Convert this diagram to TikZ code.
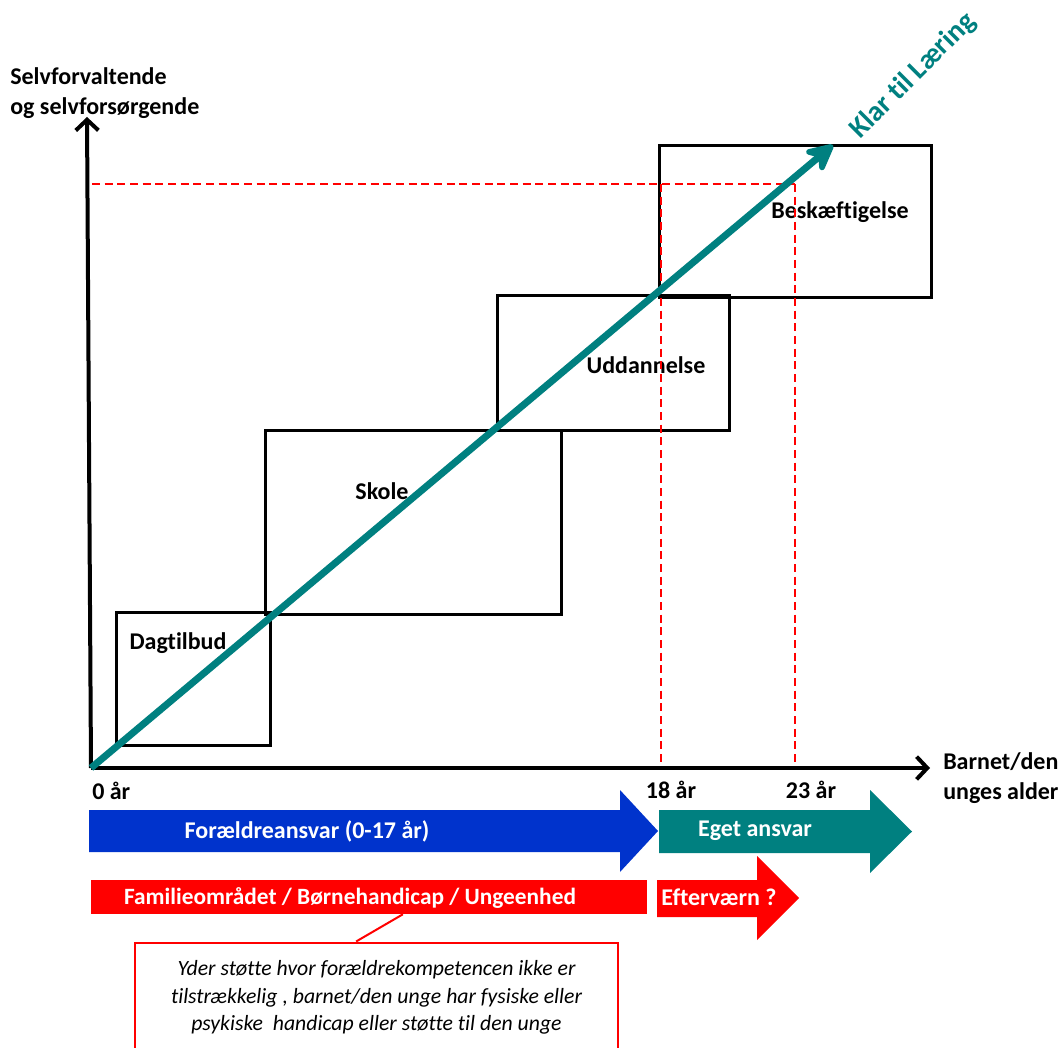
\documentclass[tikz,border=0pt]{standalone}
\usepackage{fontspec}
\setmainfont{Carlito}[Ligatures=NoCommon]
\usetikzlibrary{arrows.meta}
\definecolor{tealc}{RGB}{0,128,128}
\definecolor{bluec}{RGB}{0,51,204}
\definecolor{redc}{RGB}{255,0,0}
\begin{document}
\begin{tikzpicture}[x=0.75pt,y=-0.75pt,
  stagebox/.style={draw=black,line width=2.25pt,inner sep=0pt,minimum width=#1},
  lbl/.style={font=\bfseries\fontsize{18}{21}\selectfont,inner sep=0pt},
  axlbl/.style={font=\bfseries\fontsize{18}{22.5}\selectfont,inner sep=0pt},
  wlbl/.style={font=\bfseries\fontsize{18}{21}\selectfont,text=white,inner sep=0pt},
  axisline/.style={line width=3pt,draw=black,-{Straight Barb[length=8pt,width=17pt,line width=3pt]}},
  guide/.style={draw=redc,line width=1.1pt,dash pattern=on 6pt off 3.5pt}]
\useasboundingbox (0,0) rectangle (1063,1048);
% stage boxes
\node[stagebox=115.5pt,minimum height=99.75pt] (dag) at (193,678.5) {};
\node[stagebox=222pt,minimum height=138pt] (skole) at (413,522) {};
\node[stagebox=174pt,minimum height=100.5pt] (udd) at (613,363) {};
\node[stagebox=204pt,minimum height=114pt] (besk) at (795.5,221.5) {};
\node[lbl] (dagl) at (178,643) {Dagtilbud};
\node[lbl] (skolel) at (382,491) {Skole};
\node[lbl] (uddl) at (646,365) {Uddannelse};
\node[lbl] (beskl) at (840,212) {Beskæftigelse};
% guide lines
\coordinate (g0) at (92,184);
\coordinate (g18) at (661,184);
\coordinate (g23) at (795,184);
\coordinate (b18) at (661,768);
\coordinate (b23) at (795,768);
\draw[guide] (g0) -- (g23);
\draw[guide] (g18) -- (b18);
\draw[guide] (g23) -- (b23);
% axes
\coordinate (O) at (91,768);
\coordinate (ytop) at (87,117);
\coordinate (xend) at (930,768);
\draw[axisline] (O) -- (ytop);
\draw[axisline] (O) -- (xend);
% learning arrow
\coordinate (ktip) at (833,145);
\draw[draw=tealc,line width=5.25pt,-{Stealth[length=26pt,width=26pt,inset=9pt,round]}] (O) -- (ktip);
\node[font=\bfseries\fontsize{21.5}{24}\selectfont,text=tealc,rotate=45,inner sep=0pt] (klar) at (913,76) {Klar til Læring};
% axis labels
\node[axlbl,align=left,anchor=west] (ylab) at (10,93) {Selvforvaltende\\og selvforsørgende};
\node[axlbl,align=left,anchor=west] (xlab) at (943,778) {Barnet/den\\unges alder};
\node[axlbl,anchor=west] (a0) at (92,791) {0 år};
\node[axlbl] (a18) at (671,790) {18 år};
\node[axlbl] (a23) at (811,790) {23 år};
% block arrows
\fill[bluec] (89,810) -- (620,810) -- (620,790) -- (658,831) -- (620,872) -- (620,852) -- (89,852) -- cycle;
\node[wlbl] (foraeld) at (307,831) {Forældreansvar (0-17 år)};
\fill[tealc] (659,810) -- (870,810) -- (870,790) -- (912,831.5) -- (870,873) -- (870,853) -- (659,853) -- cycle;
\node[wlbl] (eget) at (755,831) {Eget ansvar};
\node[fill=redc,minimum width=417pt,minimum height=25.5pt,inner sep=0pt] (fam) at (369,897) {};
\node[wlbl,font=\bfseries\fontsize{17.5}{21}\selectfont] (faml) at (350,898) {Familieområdet / Børnehandicap / Ungeenhed};
\fill[redc] (657,880) -- (757,880) -- (757,856) -- (799,898) -- (757,940) -- (757,917) -- (657,917) -- cycle;
\node[wlbl] (efter) at (719,897) {Efterværn ?};
% callout
\node[draw=redc,line width=1.5pt,fill=white,minimum width=362.25pt,minimum height=82.5pt,align=center,inner sep=0pt,
  font=\itshape\fontsize{16.3}{20.6}\selectfont] (call) at (376.5,997.5)
  {Yder støtte hvor forældrekompetencen ikke er\\tilstrækkelig , barnet/den unge har fysiske eller\\psykiske\ \ handicap eller støtte til den unge};
\draw[draw=redc,line width=1.5pt] (fam.-27) -- (call.110);
\end{tikzpicture}
\end{document}
